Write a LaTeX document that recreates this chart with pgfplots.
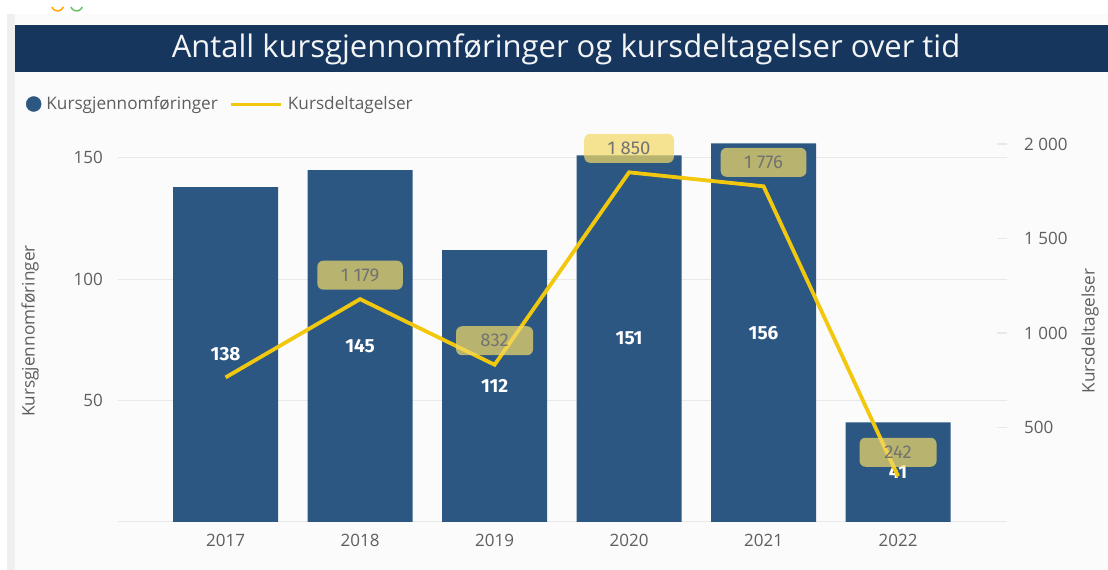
\documentclass[border=0pt]{standalone}
\usepackage{fontspec}
\setmainfont{Open Sans}
\newfontfamily\dinfont{Fira Sans}
\usepackage{pgfplots}
\usepackage{pgfplotstable}
\pgfplotsset{compat=1.18}
\definecolor{barblue}{HTML}{2B5782}
\definecolor{navy}{HTML}{16365E}
\definecolor{lineyellow}{HTML}{F2C80F}
\definecolor{lblfill}{HTML}{F3DA66}
\definecolor{txtgrey}{HTML}{605E5C}
\definecolor{gridgrey}{HTML}{E9E9E9}
\definecolor{bggrey}{HTML}{FBFBFB}
\definecolor{stripgrey}{HTML}{EFEFEF}

\pgfplotstableread{
x year n
0 2017 138
1 2018 145
2 2019 112
3 2020 151
4 2021 156
5 2022 41
}\bars
\pgfplotstableread{
x p
0 765
1 1179
2 832
3 1850
4 1776
5 242
}\deltag

\begin{document}
\begin{tikzpicture}[x=1pt,y=1pt]
\useasboundingbox (0,0) rectangle (1108,570);
\fill[white] (0,0) rectangle (1108,570);
\fill[bggrey] (15,0) rectangle (1108,556);
\fill[stripgrey] (7,0) rectangle (15,556);
\draw[orange!70!yellow, line width=1.5pt] (52,563) arc (200:340:6);
\draw[green!60!black!60, line width=1.5pt] (71,563) arc (200:340:6);
\fill[navy] (15,498) rectangle (1108,545);
\node[text=white!95!navy, font=\fontsize{31}{34}\selectfont] at (566,521) {Antall kursgjennomføringer og kursdeltagelser over tid};

\begin{axis}[
  at={(118pt,48pt)}, anchor=south west, scale only axis,
  width=889pt, height=392pt,
  xmin=-0.8, xmax=5.81, ymin=0, ymax=161.5,
  axis line style={draw=none},
  xtick={0,1,2,3,4,5}, xticklabels={2017,2018,2019,2020,2021,2022},
  ytick={0,50,100,150}, yticklabels={{},50,100,150},
  major tick length=0pt,
  ymajorgrids, grid style={gridgrey, line width=1pt},
  ticklabel style={font=\fontsize{17}{20}\selectfont, text=txtgrey, inner sep=0pt},
  yticklabel style={anchor=east, xshift=-15pt},
  xticklabel style={anchor=north, yshift=-12pt},
  /pgf/number format/assume math mode=true,
  ylabel={Kursgjennomføringer},
  ylabel style={at={(axis description cs:-0.099,0.487)}, anchor=center,
    font=\fontsize{17.2}{20}\selectfont, text=txtgrey},
  ybar, bar width=105pt,
  nodes near coords, point meta=rawy,
  visualization depends on={rawy \as \rawy},
  every node near coord/.append style={anchor=center, yshift={-1.21335*\rawy pt},
    font=\dinfont\bfseries\fontsize{19}{22}\selectfont, text=white},
]
\addplot[fill=barblue, draw=none] table[x=x,y=n] {\bars};
\end{axis}

\begin{axis}[
  at={(118pt,48pt)}, anchor=south west, scale only axis,
  width=889pt, height=392pt,
  xmin=-0.8, xmax=5.81, ymin=0, ymax=2074,
  axis x line=none,
  axis y line*=right, axis line style={draw=none},
  ytick={500,1000,1500,2000},
  tick align=inside, major tick length=10pt,
  ytick style={draw=gridgrey, line width=1.5pt},
  yticklabel style={anchor=west, xshift=17pt, inner sep=0pt,
    font=\fontsize{17}{20}\selectfont, text=txtgrey},
  /pgf/number format/.cd, 1000 sep={\ }, assume math mode=true,
  /pgfplots/.cd,
  ylabel={Kursdeltagelser},
  ylabel style={at={(axis description cs:1.0934,0.487)}, anchor=center,
    font=\fontsize{17.2}{20}\selectfont, text=txtgrey},
  legend columns=2,
  legend style={draw=none, fill=none, inner sep=0pt, outer sep=0pt,
    at={(-0.1035,1.0663)}, anchor=west,
    font=\fontsize{17.2}{20}\selectfont, text=txtgrey,
    nodes={inner sep=0pt},
    /tikz/every odd column/.append style={column sep=5pt},
    /tikz/every even column/.append style={column sep=12pt}},
]
\addlegendimage{legend image code/.code={\fill[barblue] (7.5pt,0pt) circle (7.5pt);}}
\addlegendentry{Kursgjennomføringer}
\addplot[lineyellow, line width=3.8pt, mark=none,
  legend image code/.code={\draw[lineyellow, line width=3pt] (0pt,0pt) -- (50pt,0pt);}]
  table[x=x,y=p] {\deltag};
\addlegendentry{Kursdeltagelser}
\addplot[draw=none, mark=none, forget plot,
  skip coords between index={0}{1},
  nodes near coords, point meta=rawy,
  every node near coord/.style={anchor=center, yshift=24pt,
    fill=lblfill, fill opacity=0.71, text opacity=1, rounded corners=6pt,
    minimum width=77pt, minimum height=29pt, inner xsep=23.5pt,
    font=\dinfont\fontsize{18.5}{20}\selectfont, text=black!55}]
  table[x=x,y=p] {\deltag};
\end{axis}
\end{tikzpicture}
\end{document}
